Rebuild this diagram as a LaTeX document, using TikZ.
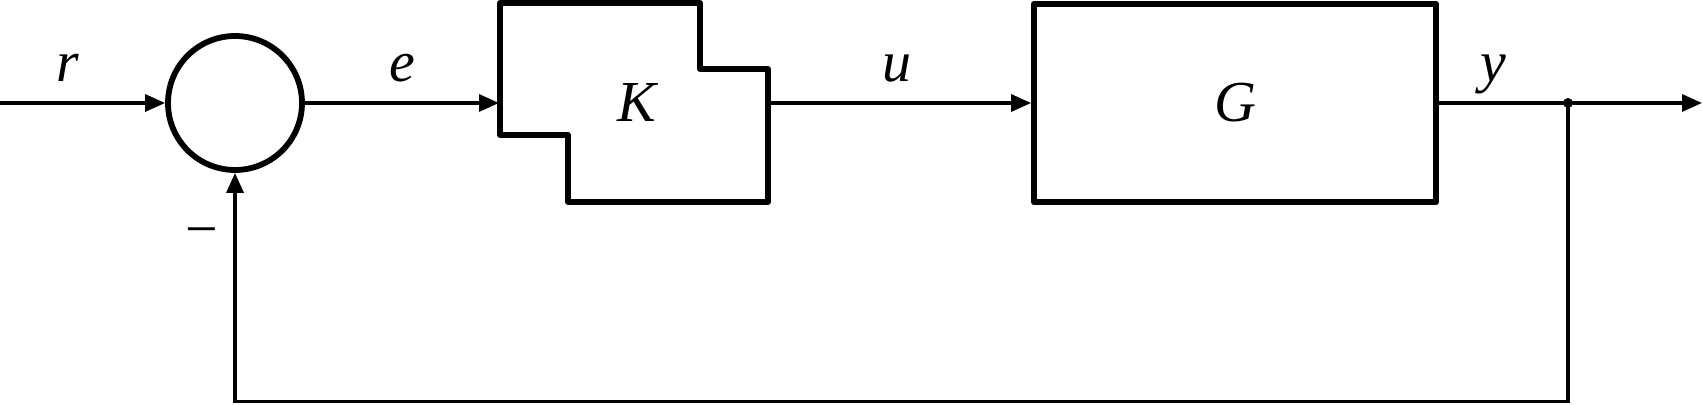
\documentclass[tikz,border=0pt]{standalone}
\usepackage{fontspec}
\setmainfont{Liberation Serif}
\usetikzlibrary{arrows.meta}
\begin{document}
\begin{tikzpicture}[x=0.5pt,y=-0.5pt,
  thinline/.style={line width=1.6pt},
  thickline/.style={line width=2.9pt,line join=round},
  sig/.style={thinline,-{Triangle[length=10pt,width=8.5pt]}},
  lbl/.style={font=\fontsize{29}{34}\selectfont\itshape,inner sep=0pt,anchor=base},
  sumnode/.style={circle,draw,line width=2.9pt,minimum size=67pt,inner sep=0pt},
  blk/.style={rectangle,draw,thickline,minimum width=201pt,minimum height=99.25pt,inner sep=0pt}]
\useasboundingbox (0,0) rectangle (1703,405);
% summing junction
\node[sumnode] (sum) at (235,103) {};
% K block
\draw[thickline] (500,3) -- (700,3) -- (700,69) -- (768,69) -- (768,202) -- (568,202) -- (568,135) -- (500,135) -- cycle;
\node[lbl] (K) at (637,122) {K};
\coordinate (Kin) at (499,103);
\coordinate (Kout) at (768,103);
% G block
\node[blk] (G) at (1235,103) {};
\node[lbl] (Glbl) at (1235,122) {G};
% points
\coordinate (rin) at (0,103);
\coordinate (yout) at (1702,103);
\coordinate (jn) at (1568,103);
\coordinate (fb) at (1568,401.5);
\fill (jn) circle[radius=2.5pt];
% connectors
\draw[sig] (rin) -- (sum.west);
\draw[sig] (sum.east) -- (Kin);
\draw[sig] (Kout) -- (G.west);
\draw[thinline] (G.east) -- (jn);
\draw[sig] (jn) -- (yout);
\draw[sig] (jn) -- (fb) -| (sum.south);
% labels
\node[lbl] (rl) at (68,82) {r};
\node[lbl] (el) at (402,82) {e};
\node[lbl] (ul) at (897,82) {u};
\node[lbl] (yl) at (1493,82) {y};
\node[font=\fontsize{29}{34}\selectfont,inner sep=0pt] (minus) at (202,238) {−};
\end{tikzpicture}
\end{document}
